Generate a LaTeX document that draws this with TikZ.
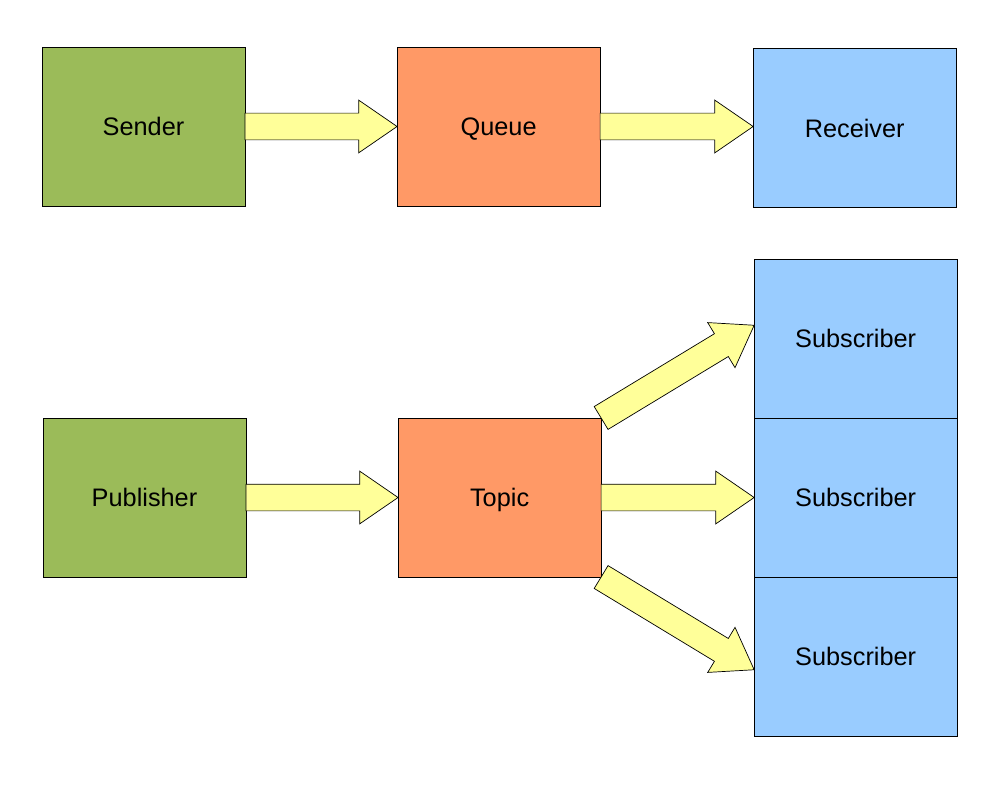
\documentclass[tikz,border=0pt]{standalone}
\usepackage{fontspec}
\setmainfont{Liberation Sans}
\usetikzlibrary{positioning,calc,shapes.arrows}
\definecolor{SenderFill}{HTML}{9BBB59}
\definecolor{ChannelFill}{HTML}{FF9966}
\definecolor{ConsumerFill}{HTML}{99CCFF}
\definecolor{ArrowFill}{HTML}{FFFF99}
\tikzset{
  box/.style={draw=black, line width=0.6pt, outer sep=0pt, minimum width=5.075cm,
    minimum height=3.975cm, font=\fontsize{18}{20}\selectfont,
    text height=16.2pt, text depth=3.2pt},
  producer/.style={box, fill=SenderFill},
  channel/.style={box, fill=ChannelFill},
  consumer/.style={box, fill=ConsumerFill},
  bigarrow/.style={shape=single arrow, draw=black, line width=0.5pt, fill=ArrowFill,
    single arrow head extend=0.325cm, single arrow tip angle=69,
    inner xsep=0pt, inner ysep=0.325cm, outer sep=0pt, anchor=tail},
}
\newcommand{\flowarrow}[2]{%
  \path let \p1=($(#2)-(#1)$), \n1={atan2(\y1,\x1)}, \n2={veclen(\x1,\y1)} in
    node[bigarrow, minimum height=\n2, rotate=\n1] at (#1) {};}

\begin{document}
\begin{tikzpicture}[x=0.025cm, y=-0.025cm, node distance=3.8cm]
  \useasboundingbox (0,0) rectangle (1004,788);

  % point-to-point: sender -> queue -> receiver
  \node[producer] (sender) at (143.5,126.5) {Sender};
  \node[channel, right=of sender] (queue) {Queue};
  \node[consumer, right=3.825cm of queue, yshift=-0.04cm] (receiver) {Receiver};

  % publish/subscribe: publisher -> topic -> subscribers
  \node[producer] (publisher) at (144.5,497.5) {Publisher};
  \node[channel, right=of publisher] (topic) {Topic};
  \node[consumer, right=3.825cm of topic] (subB) {Subscriber};
  \node[consumer, above=0pt of subB] (subA) {Subscriber};
  \node[consumer, below=0pt of subB] (subC) {Subscriber};

  \coordinate (tipR) at (queue.east -| receiver.west);
  \coordinate (tipA) at ([yshift=0.33cm]subA.west);
  \coordinate (tipC) at ([yshift=-0.33cm]subC.west);

  % block arrows
  \flowarrow{sender.east}{queue.west}
  \flowarrow{queue.east}{tipR}
  \flowarrow{publisher.east}{topic.west}
  \flowarrow{topic.east}{subB.west}
  \flowarrow{topic.north east}{tipA}
  \flowarrow{topic.south east}{tipC}

\end{tikzpicture}
\end{document}
